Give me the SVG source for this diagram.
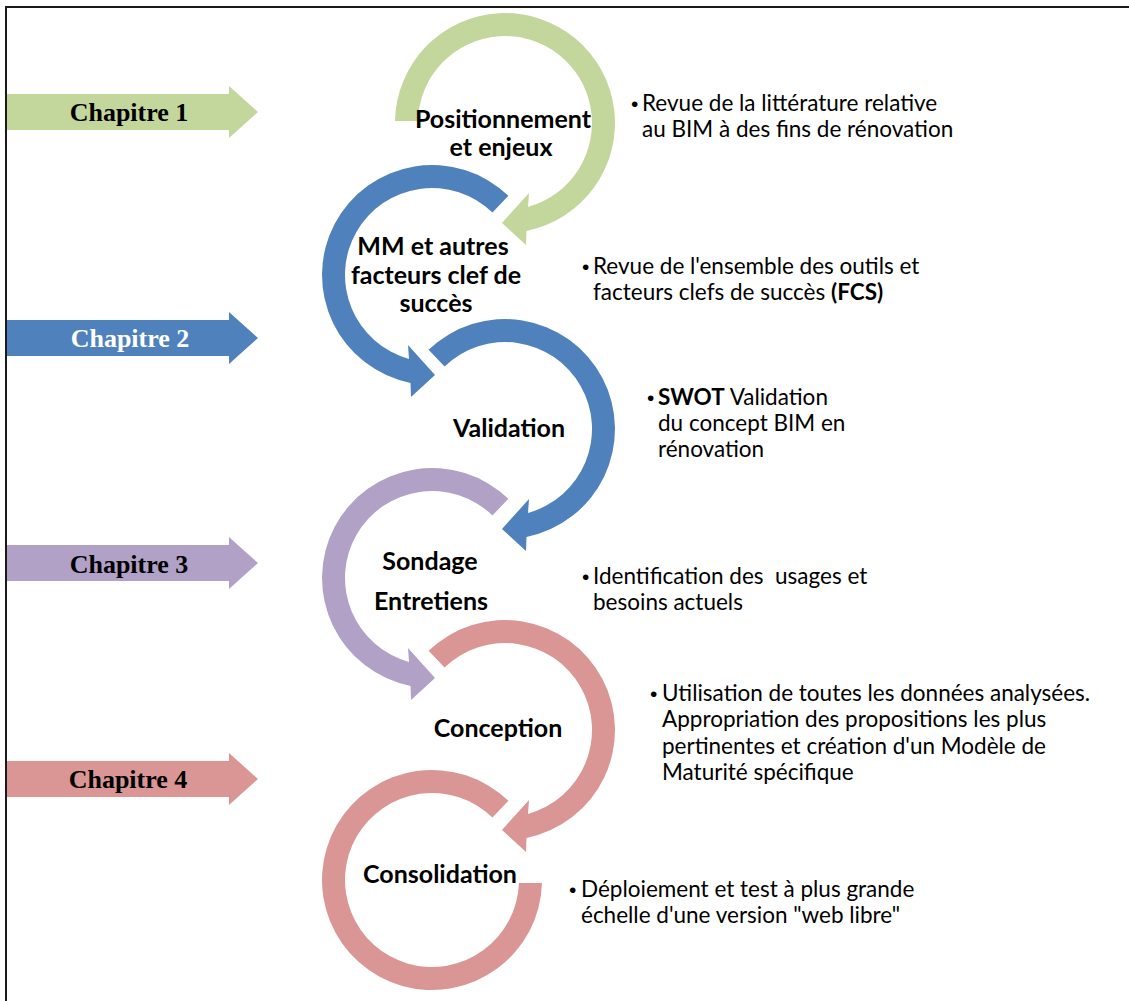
<svg xmlns="http://www.w3.org/2000/svg" xmlns:xlink="http://www.w3.org/1999/xlink" width="1129" height="1001" viewBox="0 0 1129 1001">
<style>
.green{fill:#C3D69B}
.blue{fill:#4F81BD}
.purple{fill:#B2A1C7}
.pink{fill:#D99694}
.lbl{font-family:Lato,"Liberation Sans",sans-serif;font-weight:bold;font-size:25px;fill:#000;text-anchor:middle}
.desc{font-family:Lato,"Liberation Sans",sans-serif;font-size:22.5px;fill:#000}
.bul{font-family:"Liberation Sans",sans-serif;font-size:21px;fill:#000}
.b{font-weight:bold}
.chap{font-family:"Liberation Serif","Times New Roman",serif;font-weight:bold;font-size:26px;text-anchor:middle;fill:#000}
.border{stroke:#1a1a1a;stroke-width:2;fill:none}
</style>
<defs>
<path id="arcR" d="M-76.41,-79.13 A110,110 0 1,1 21.5,107.9 L21,122 L-3,100 L24,70 L23,83.9 A87,87 0 1,0 -60.44,-62.58 Z"/>
<path id="arcG" d="M-110,-2 A110,110 0 1,1 21.5,107.9 L21,122 L-3,100 L24,70 L23,83.9 A87,87 0 1,0 -87,-2 Z"/>
<path id="arcEnd" d="M76.41,-79.13 A110,110 0 1,0 109.96,3 L86.95,3 A87,87 0 1,1 60.44,-62.58 Z"/>
<path id="chapArrow" d="M0,-18 H222 V-26 L251,0 L222,26 V18 H0 Z"/>
</defs>

<rect width="1129" height="1001" fill="#fff"/>
<path class="border" d="M6,1001 V7 H1129"/>

<g id="chapitre-1">
<use xlink:href="#chapArrow" class="green" transform="translate(7,112)"/>
<text class="chap" x="129" y="121">Chapitre 1</text>
</g>
<g id="chapitre-2">
<use xlink:href="#chapArrow" class="blue" transform="translate(7,338)"/>
<text class="chap" x="130" y="347" style="fill:#fff">Chapitre 2</text>
</g>
<g id="chapitre-3">
<use xlink:href="#chapArrow" class="purple" transform="translate(7,563)"/>
<text class="chap" x="129" y="573">Chapitre 3</text>
</g>
<g id="chapitre-4">
<use xlink:href="#chapArrow" class="pink" transform="translate(7,779)"/>
<text class="chap" x="128" y="788">Chapitre 4</text>
</g>

<g id="connectors"></g>

<g id="n-positionnement">
<use xlink:href="#arcG" class="green" transform="translate(505,123)"/>
<text class="lbl" x="503" y="128">Positionnement</text>
<text class="lbl" x="501" y="156">et enjeux</text>
</g>

<g id="n-mm">
<use xlink:href="#arcR" class="blue" transform="translate(432,275) scale(-1,1)"/>
<text class="lbl" x="433" y="255">MM et autres</text>
<text class="lbl" x="436" y="284">facteurs clef de</text>
<text class="lbl" x="436" y="312">succès</text>
</g>

<g id="n-validation">
<use xlink:href="#arcR" class="blue" transform="translate(505,429)"/>
<text class="lbl" x="509" y="437">Validation</text>
</g>

<g id="n-sondage">
<use xlink:href="#arcR" class="purple" transform="translate(432,578) scale(-1,1)"/>
<text class="lbl" x="430" y="570">Sondage</text>
<text class="lbl" x="431" y="610">Entretiens</text>
</g>

<g id="n-conception">
<use xlink:href="#arcR" class="pink" transform="translate(505,730)"/>
<text class="lbl" x="498" y="737">Conception</text>
</g>

<g id="n-consolidation">
<use xlink:href="#arcEnd" class="pink" transform="translate(432,880)"/>
<text class="lbl" x="440" y="883">Consolidation</text>
</g>

<g id="desc-1">
<text class="bul" x="631" y="111">•</text>
<text class="desc" x="642" y="111">Revue de la littérature relative</text>
<text class="desc" x="642" y="137">au BIM à des fins de rénovation</text>
</g>
<g id="desc-2">
<text class="bul" x="582" y="274">•</text>
<text class="desc" x="593" y="274">Revue de l'ensemble des outils et</text>
<text class="desc" x="593" y="300">facteurs clefs de succès <tspan class="b">(FCS)</tspan></text>
</g>
<g id="desc-3">
<text class="bul" x="647" y="405">•</text>
<text class="desc" x="658" y="405"><tspan class="b">SWOT</tspan> Validation</text>
<text class="desc" x="658" y="431">du concept BIM en</text>
<text class="desc" x="658" y="457">rénovation</text>
</g>
<g id="desc-4">
<text class="bul" x="582" y="584">•</text>
<text class="desc" x="593" y="584" xml:space="preserve">Identification des  usages et</text>
<text class="desc" x="593" y="610">besoins actuels</text>
</g>
<g id="desc-5">
<text class="bul" x="650" y="701">•</text>
<text class="desc" x="662" y="701">Utilisation de toutes les données analysées.</text>
<text class="desc" x="662" y="727">Appropriation des propositions les plus</text>
<text class="desc" x="662" y="754">pertinentes et création d'un Modèle de</text>
<text class="desc" x="662" y="780">Maturité spécifique</text>
</g>
<g id="desc-6">
<text class="bul" x="569" y="897">•</text>
<text class="desc" x="581" y="897">Déploiement et test à plus grande</text>
<text class="desc" x="581" y="923">échelle d'une version "web libre"</text>
</g>
</svg>
